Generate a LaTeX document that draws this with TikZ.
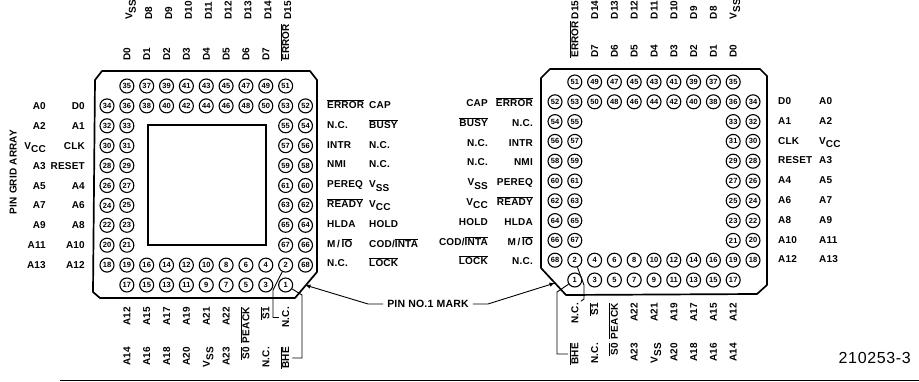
\documentclass[tikz,border=0pt]{standalone}
\usepackage{fontspec}
\setmainfont[LetterSpace=2]{Liberation Sans}
\newfontfamily\figfont[LetterSpace=4]{Liberation Sans}
\usepackage{tikz}
\usetikzlibrary{arrows}
\newcommand{\ovl}[1]{$\overline{\mbox{#1}}$}
\newcommand{\vsub}[1]{V\raisebox{-3.5pt}{#1}}
\tikzset{
  socket/.style={circle,draw,line width=1.1pt,minimum size=14pt,inner sep=0pt,
    font=\fontsize{7.5}{7.5}\selectfont\bfseries},
  sig/.style={inner sep=0pt,text height=7pt,text depth=0pt,
    font=\fontsize{10}{10}\selectfont\bfseries},
  sig_l/.style={sig,anchor=west},
  sig_r/.style={sig,anchor=east},
  sig_up/.style={sig,rotate=90,anchor=west},
  sig_dn/.style={sig,rotate=90,anchor=east},
  outline/.style={line width=1.7pt,line join=round},
  lead/.style={line width=0.9pt,shorten >=3pt},
  mark_line/.style={line width=0.9pt,-latex}
}
\begin{document}
\begin{tikzpicture}[x=1pt,y=-1pt]
  \useasboundingbox (0,0) rectangle (919,382);

  % package outlines
  \draw[outline] (95,80) -- (102,71) -- (310,71) -- (317,80) -- (317,272) -- (295,298)
    -- (100,298) -- (93,292) -- cycle;
  \draw[outline] (550,69) -- (760,69) -- (767,76) -- (767,285) -- (757,294) -- (566,295)
    -- (541,268) -- (541,78) -- cycle;
  \draw[line width=1.3pt] (148,125) rectangle (266,245);

  % pins: number/column/row, the second package is mirrored
  \foreach \n/\c/\r in {35/1/0,37/2/0,39/3/0,41/4/0,43/5/0,45/6/0,47/7/0,49/8/0,51/9/0,
      34/0/1,36/1/1,38/2/1,40/3/1,42/4/1,44/5/1,46/6/1,48/7/1,50/8/1,53/9/1,52/10/1,
      32/0/2,33/1/2,55/9/2,54/10/2,30/0/3,31/1/3,57/9/3,56/10/3,
      28/0/4,29/1/4,59/9/4,58/10/4,26/0/5,27/1/5,61/9/5,60/10/5,
      24/0/6,25/1/6,63/9/6,62/10/6,22/0/7,23/1/7,65/9/7,64/10/7,
      20/0/8,21/1/8,67/9/8,66/10/8,
      18/0/9,19/1/9,16/2/9,14/3/9,12/4/9,10/5/9,8/6/9,6/7/9,4/8/9,2/9/9,68/10/9,
      17/1/10,15/2/10,13/3/10,11/4/10,9/5/10,7/6/10,5/7/10,3/8/10,1/9/10}{
    \node[socket] (l_\n) at ({107+19.85*\c},{86+19.9*\r}) {\n};
    \node[socket] (r_\n) at ({753-19.8*\c},{82+19.8*\r}) {\n};
  }

  % signals at the sides
  \foreach \a/\b [count=\i from 0] in {A0/D0,A2/A1,\vsub{CC}/CLK,A3/RESET,A5/A4,A7/A6,A9/A8,A11/A10,A13/A12}{
    \node[sig_r] (la_\i) at (46,{106+19.9*\i}) {\a};
    \node[sig_r] (lb_\i) at (85,{106+19.9*\i}) {\b};
    \node[sig_l] (rb_\i) at (778,{101+19.8*\i}) {\b};
    \node[sig_l] (ra_\i) at (819,{101+19.8*\i}) {\a};
  }
  \foreach \a/\b [count=\i from 0] in {\ovl{ERROR}/CAP,N.C./\ovl{BUSY},INTR/N.C.,NMI/N.C.,PEREQ/\vsub{SS},
      \ovl{READY}/\vsub{CC},HLDA/HOLD,{M\,/\,\ovl{IO}}/{COD/\ovl{INTA}},N.C./\ovl{LOCK}}{
    \node[sig_l] (lc_\i) at (327,{105+19.8*\i}) {\a};
    \node[sig_l] (ld_\i) at (369,{105+19.8*\i}) {\b};
    \node[sig_r] (rc_\i) at (533,{103+19.8*\i}) {\a};
    \node[sig_r] (rd_\i) at (488,{103+19.8*\i}) {\b};
  }

  % signals above
  \foreach \a/\b [count=\k from 1] in {D0/\vsub{SS},D1/D8,D2/D9,D3/D10,D4/D11,D5/D12,D6/D13,D7/D14,\ovl{ERROR}/D15}{
    \node[sig_up] (lt_\k) at ({107+19.85*\k},61) {\a};
    \node[sig_up] (lu_\k) at ({109+19.85*\k},20) {\b};
    \node[sig_up] (rt_\k) at ({753-19.8*\k},58) {\a};
    \node[sig_up] (ru_\k) at ({753-19.8*\k},19.5) {\b};
  }

  % signals below
  \foreach \a/\b [count=\k from 1] in {A12/A14,A15/A16,A17/A18,A19/A20,A21/\vsub{SS},A22/A23,
      \ovl{PEACK}/\ovl{S0},\ovl{S1}/N.C.,N.C./\ovl{BHE}}{
    \node[sig_dn] (lin_\k) at ({107+19.85*\k},307) {\a};
    \node[sig_dn] (lout_\k) at ({107+19.85*\k},347) {\b};
    \node[sig_dn] (rin_\k) at ({753-19.8*\k},303) {\a};
    \node[sig_dn] (rout_\k) at ({753-19.8*\k},343) {\b};
  }

  \node[sig,rotate=90] (grid_array) at (13,172) {PIN GRID ARRAY};
  \node[sig,font=\fontsize{10.5}{11}\selectfont\bfseries] (pin_mark) at (428,304) {PIN NO.1 MARK};
  \node[inner sep=0pt,anchor=east,font=\figfont\fontsize{16}{17}\selectfont] (fig_no) at (911,358) {210253-3};

  \coordinate (tip_l) at (305,285);
  \coordinate (tip_r) at (555,283);

  \draw[lead] (l_2) -- (273,290) |- (lin_9.north);
  \draw[lead] (l_1) -- (302,295) |- (lout_9.south);
  \draw[lead] (r_2) -- (584,285) -- (584,299) -- (rin_9.south east);
  \draw[lead] (r_1) -- (557,292) |- (rout_9.north);
  \draw[mark_line] (pin_mark.west) ++(-4,0) -- ++(-15,0) -- (tip_l);
  \draw[mark_line] (pin_mark.east) ++(4,0) -- ++(15,0) -- (tip_r);

  \draw[line width=1.5pt] (60,380.5) -- (919,380.5);
\end{tikzpicture}
\end{document}
